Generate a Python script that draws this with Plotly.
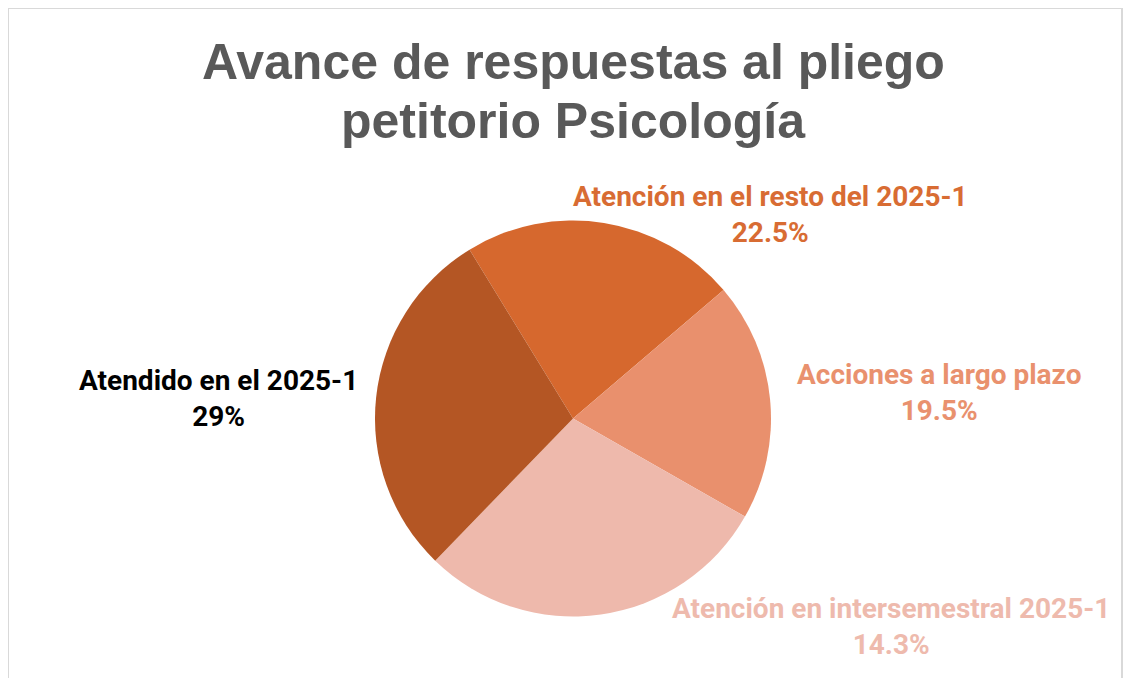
"""Pie chart: Avance de respuestas al pliego petitorio Psicología."""

import plotly.graph_objects as go

# ---------------------------------------------------------------------------
# Data (clockwise from the top-left edge of the orange slice)
# ---------------------------------------------------------------------------
categorias = [
    "Atención en el resto del 2025-1",
    "Acciones a largo plazo",
    "Atención en intersemestral 2025-1",
    "Atendido en el 2025-1",
]
# slice sizes as drawn in the reference
valores = [22.5, 19.5, 29.0, 29.0]
# percentages as printed on the labels
etiquetas_pct = ["22.5%", "19.5%", "14.3%", "29%"]

colores = ["#D6682E", "#E9906D", "#EEB9AC", "#B45624"]
colores_texto = ["#D86C33", "#E9916E", "#EEBAAD", "#000000"]
# label centres in screen pixels
pos_etiquetas = [(770, 215), (939, 393), (891, 626), (218, 398)]

W, H = 1132, 678
OFF = 8  # page body margin


def px_x(x):
    return (x - OFF) / W


def px_y(y):
    return 1 - (y - OFF) / H


fig = go.Figure()
fig.add_trace(go.Pie(
    labels=categorias,
    values=valores,
    sort=False,
    direction="clockwise",
    rotation=-31.5,
    marker=dict(colors=colores, line=dict(width=0)),
    textinfo="none",
    hoverinfo="label+percent",
    showlegend=False,
    domain=dict(x=[px_x(375), px_x(771)], y=[px_y(616.5), px_y(220.5)]),
))

# outside labels
for cat, pct, col, (x, y) in zip(categorias, etiquetas_pct, colores_texto, pos_etiquetas):
    fig.add_annotation(
        x=px_x(x), y=px_y(y), xref="paper", yref="paper",
        text=f"<b>{cat}<br>{pct}</b>",
        showarrow=False, xanchor="center", yanchor="middle",
        font=dict(family="Roboto", size=28, color=col),
    )

# title, two lines
for txt, y in [("Avance de respuestas al pliego", 62), ("petitorio Psicología", 121)]:
    fig.add_annotation(
        x=px_x(573), y=px_y(y), xref="paper", yref="paper",
        text=f"<b>{txt}</b>",
        showarrow=False, xanchor="center", yanchor="middle",
        font=dict(family="Liberation Sans", size=50, color="#595959"),
    )

# chart frame
fig.add_shape(
    type="rect", xref="paper", yref="paper",
    x0=px_x(8), x1=px_x(1122), y0=-0.1, y1=px_y(8),
    line=dict(color="#D9D9D9", width=2), layer="below",
)

fig.update_layout(
    width=W, height=H,
    margin=dict(l=0, r=0, t=0, b=0),
    paper_bgcolor="white",
    plot_bgcolor="white",
)

fig.write_html("out.html")
